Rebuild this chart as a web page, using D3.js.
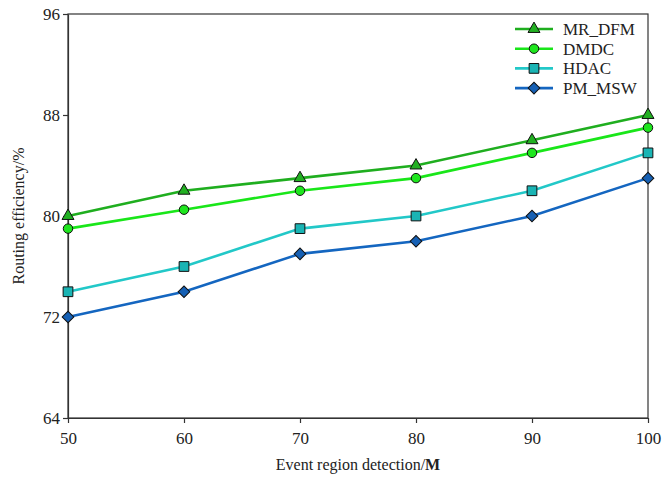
<!DOCTYPE html>
<html><head><meta charset="utf-8">
<script src="https://cdn.jsdelivr.net/npm/d3@7/dist/d3.min.js"></script>
<style>body{margin:0;background:#fff}svg{display:block}</style>
</head><body><svg id="c" width="667" height="479"></svg>
<script>
const xValues = [50, 60, 70, 80, 90, 100];
const mrDfm = [80, 82, 83, 84, 86, 88];
const dmdc = [79, 80.5, 82, 83, 85, 87];
const hdac = [74, 76, 79, 80, 82, 85];
const pmMsw = [72, 74, 77, 78, 80, 83];
const seriesNames = ["MR_DFM", "DMDC", "HDAC", "PM_MSW"];
const yTicks = [64, 72, 80, 88, 96];

const series = [
  {name: seriesNames[0], values: mrDfm, line: "#1fae1f", fill: "#22b022", sym: d3.symbolTriangle, size: 62, rot: 0},
  {name: seriesNames[1], values: dmdc, line: "#19e619", fill: "#1ee61e", sym: d3.symbolCircle, size: 70, rot: 0},
  {name: seriesNames[2], values: hdac, line: "#22c8c8", fill: "#1ab4b4", sym: d3.symbolSquare, size: 95, rot: 0},
  {name: seriesNames[3], values: pmMsw, line: "#1466c0", fill: "#1660b4", sym: d3.symbolSquare, size: 68, rot: 45}
];

const svg = d3.select("#c");
const L = 68, R = 648, T = 14, B = 418;
const x = d3.scaleLinear().domain([50, 100]).range([L, R]);
const y = d3.scaleLinear().domain([64, 96]).range([B, T]);
const font = "Liberation Serif";

svg.append("rect").attr("x", L).attr("y", T).attr("width", R - L).attr("height", B - T)
  .attr("fill", "none").attr("stroke", "#333").attr("stroke-width", 1.2);

const xa = svg.append("g").attr("transform", `translate(0,${B})`)
  .call(d3.axisBottom(x).tickValues(xValues).tickSize(5).tickSizeOuter(0).tickPadding(6));
const ya = svg.append("g").attr("transform", `translate(${L},0)`)
  .call(d3.axisLeft(y).tickValues(yTicks).tickSize(5).tickSizeOuter(0).tickPadding(3));
[xa, ya].forEach(a => {
  a.attr("font-family", font).attr("font-size", 17);
  a.select(".domain").attr("stroke", "#333").attr("stroke-width", 1.2);
  a.selectAll(".tick line").attr("stroke", "#333").attr("stroke-width", 1.2);
  a.selectAll("text").attr("fill", "#222");
});
xa.selectAll("text").attr("dy", "0.9em");

const xl = svg.append("text").attr("x", (L + R) / 2).attr("y", 470).attr("text-anchor", "middle")
  .attr("font-family", font).attr("font-size", 16).attr("fill", "#222");
xl.append("tspan").text("Event region detection/");
xl.append("tspan").attr("font-weight", "bold").text("M");
svg.append("text").attr("transform", `translate(24,${(T + B) / 2}) rotate(-90)`).attr("text-anchor", "middle")
  .attr("font-family", font).attr("font-size", 16).attr("fill", "#222").text("Routing efficiency/%");

const line = d3.line().x((d, i) => x(xValues[i])).y(d => y(d));
series.forEach(s => {
  svg.append("path").datum(s.values).attr("d", line).attr("fill", "none")
    .attr("stroke", s.line).attr("stroke-width", 2.6);
});
series.forEach(s => {
  svg.selectAll(null).data(s.values).enter().append("path")
    .attr("d", d3.symbol().type(s.sym).size(s.size))
    .attr("transform", (d, i) => `translate(${x(xValues[i])},${y(d)}) rotate(${s.rot})`)
    .attr("fill", s.fill).attr("stroke", "#111").attr("stroke-width", 1);
});

const lg = svg.append("g");
series.forEach((s, i) => {
  const yy = 29 + i * 19.7;
  lg.append("line").attr("x1", 515).attr("x2", 553).attr("y1", yy).attr("y2", yy)
    .attr("stroke", s.line).attr("stroke-width", 2.6);
  lg.append("path").attr("d", d3.symbol().type(s.sym).size(s.size))
    .attr("transform", `translate(534,${yy}) rotate(${s.rot})`).attr("fill", s.fill).attr("stroke", "#111").attr("stroke-width", 1);
  lg.append("text").attr("x", 563).attr("y", yy).attr("dy", "0.35em")
    .attr("font-family", font).attr("font-size", 17).attr("fill", "#222").text(s.name);
});
</script></body></html>
